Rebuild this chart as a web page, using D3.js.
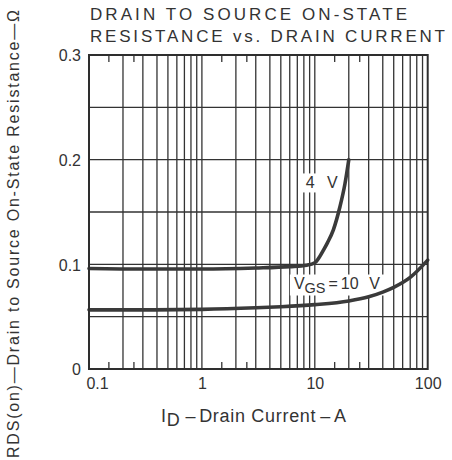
<!DOCTYPE html>
<html>
<head>
<meta charset="utf-8">
<script src="https://cdn.jsdelivr.net/npm/d3@7"></script>
<style>
  html, body { margin: 0; padding: 0; background: #fff; }
  svg { display: block; }
  text { font-family: "Liberation Sans", Arial, Helvetica, sans-serif; fill: #333; }
</style>
</head>
<body>
<svg id="chart" width="452" height="460"></svg>
<script>
// Drain current (A) and on-state resistance (ohm) for each gate voltage
const id4V  = [0.1, 0.3, 1, 3, 6, 8.5, 10, 11, 12, 13, 14.6, 16.7, 18.5, 20];
const rds4V = [0.096, 0.0955, 0.0955, 0.0965, 0.0978, 0.0992, 0.1015, 0.107, 0.114, 0.121, 0.133, 0.155, 0.177, 0.2];
const id10V  = [0.1, 0.3, 1, 3, 5, 10, 20, 30, 40, 50, 70, 100];
const rds10V = [0.0565, 0.0565, 0.057, 0.0585, 0.0595, 0.0615, 0.065, 0.069, 0.0735, 0.078, 0.0875, 0.104];

// Axis ticks, grid and labels
const xTickValues = [0.1, 1, 10, 100];
const xTickLabels = ["0.1", "1", "10", "100"];
const xGridValues = [0.2, 0.3, 0.4, 0.5, 0.6, 0.7, 0.8, 0.9, 1, 2, 3, 4, 5, 6, 7, 8, 9, 10, 20, 30, 40, 50, 60, 70, 80, 90];
const xMinorTicks = [0.15, 0.25, 1.5, 2.5, 15, 25];
const yTickValues = [0, 0.1, 0.2, 0.3];
const yTickLabels = ["0", "0.1", "0.2", "0.3"];
const yGridValues = [0.05, 0.1, 0.15, 0.2, 0.25];

const titleLines = ["DRAIN TO SOURCE ON-STATE", "RESISTANCE vs. DRAIN CURRENT"];
const yAxisTitle = "RDS(on)\u2014Drain to Source  On-State Resistance\u2014\u03A9";

const margin = { left: 89, top: 55, right: 24.3, bottom: 91 };
const W = 452, H = 460;
const iw = W - margin.left - margin.right;
const ih = H - margin.top - margin.bottom;

const svg = d3.select("#chart");
const g = svg.append("g").attr("transform", `translate(${margin.left},${margin.top})`);

const x = d3.scaleLog().domain([0.1, 100]).range([0, iw]);
const y = d3.scaleLinear().domain([0, 0.3]).range([ih, 0]);

const ink = "#333";
const gridW = 1.3;

// grid
g.append("g").selectAll("line").data(xGridValues).join("line")
  .attr("x1", d => x(d)).attr("x2", d => x(d))
  .attr("y1", 0).attr("y2", ih)
  .attr("stroke", ink).attr("stroke-width", gridW);
g.append("g").selectAll("line").data(yGridValues).join("line")
  .attr("x1", 0).attr("x2", iw)
  .attr("y1", d => y(d)).attr("y2", d => y(d))
  .attr("stroke", ink).attr("stroke-width", gridW);

// inward minor ticks on top and bottom edges
const minor = g.append("g");
minor.selectAll("line.b").data(xMinorTicks).join("line").attr("class", "b")
  .attr("x1", d => x(d)).attr("x2", d => x(d))
  .attr("y1", ih).attr("y2", ih - 7)
  .attr("stroke", ink).attr("stroke-width", gridW);
minor.selectAll("line.t").data(xMinorTicks).join("line").attr("class", "t")
  .attr("x1", d => x(d)).attr("x2", d => x(d))
  .attr("y1", 0).attr("y2", 7)
  .attr("stroke", ink).attr("stroke-width", gridW);

// curve labels on white boxes
function boxedLabel(node, padX, padY) {
  const bb = node.node().getBBox();
  g.insert("rect", function () { return node.node(); })
    .attr("x", bb.x - padX).attr("y", bb.y - padY)
    .attr("width", bb.width + 2 * padX).attr("height", bb.height + 2 * padY)
    .attr("fill", "#fff");
}

const lab4 = g.append("text")
  .attr("x", x(8.3)).attr("y", y(0.1725))
  .attr("font-size", 16);
lab4.append("tspan").text("4");
lab4.append("tspan").attr("dx", 12.5).text("V");
boxedLabel(lab4, 4, 1);

const lab10 = g.append("text")
  .attr("x", x(6.53)).attr("y", y(0.0769))
  .attr("font-size", 16);
lab10.append("tspan").text("V");
lab10.append("tspan").attr("dy", 4).attr("font-size", 14.5).text("GS");
lab10.append("tspan").attr("dy", -4).attr("dx", 3).text("=");
lab10.append("tspan").attr("dx", 3).text("10");
lab10.append("tspan").attr("dx", 10.5).text("V");
boxedLabel(lab10, 4, 0);

// curves
const line = d3.line()
  .x(d => x(d[0])).y(d => y(d[1]))
  .curve(d3.curveMonotoneX);

const series = [d3.zip(id4V, rds4V), d3.zip(id10V, rds10V)];
g.append("g").selectAll("path").data(series).join("path")
  .attr("d", line)
  .attr("fill", "none")
  .attr("stroke", "#3a3a3a")
  .attr("stroke-width", 3.6)
  .attr("stroke-linecap", "round")
  .attr("stroke-linejoin", "round");

// frame
g.append("rect")
  .attr("x", 0).attr("y", 0).attr("width", iw).attr("height", ih)
  .attr("fill", "none").attr("stroke", "#2e2e2e").attr("stroke-width", 2);

// axes (labels only; grid and frame drawn above)
const xAxis = d3.axisBottom(x).tickValues(xTickValues)
  .tickFormat((d, i) => xTickLabels[i]).tickSize(0);
const xg = g.append("g").attr("transform", `translate(0,${ih})`).call(xAxis);
xg.select(".domain").remove();
xg.attr("font-family", null);
xg.selectAll("text")
  .attr("y", 19.5).attr("dy", 0)
  .attr("font-size", 16)
  .attr("dx", (d, i) => (i === 0 ? 8 : 0));

const yAxis = d3.axisLeft(y).tickValues(yTickValues)
  .tickFormat((d, i) => yTickLabels[i]).tickSize(0);
const yg = g.append("g").call(yAxis);
yg.select(".domain").remove();
yg.attr("font-family", null);
yg.selectAll("text")
  .attr("x", -8).attr("dy", "0.36em")
  .attr("font-size", 16);

// titles
svg.append("text").attr("x", 90).attr("y", 19.5)
  .attr("font-size", 17).attr("fill", "#3a3a3a")
  .attr("textLength", 317).attr("lengthAdjust", "spacing")
  .text(titleLines[0]);
svg.append("text").attr("x", 90).attr("y", 41.7)
  .attr("font-size", 17).attr("fill", "#3a3a3a")
  .attr("textLength", 355).attr("lengthAdjust", "spacing")
  .text(titleLines[1]);

// x axis title
const xt = svg.append("text").attr("x", 161).attr("y", 421.5)
  .attr("font-size", 18).attr("letter-spacing", 0.7);
xt.append("tspan").text("I");
xt.append("tspan").attr("dy", 4).text("D");
xt.append("tspan").attr("dy", -4).attr("dx", 5).text("\u2013");
xt.append("tspan").attr("dx", 3).text("Drain Current");
xt.append("tspan").attr("dx", 4).text("\u2013");
xt.append("tspan").attr("dx", 3).text("A");

// y axis title
svg.append("text")
  .attr("transform", "rotate(-90)")
  .attr("x", -458).attr("y", 18.5)
  .attr("font-size", 16)
  .attr("textLength", 448).attr("lengthAdjust", "spacing")
  .text(yAxisTitle);
</script>
</body>
</html>
